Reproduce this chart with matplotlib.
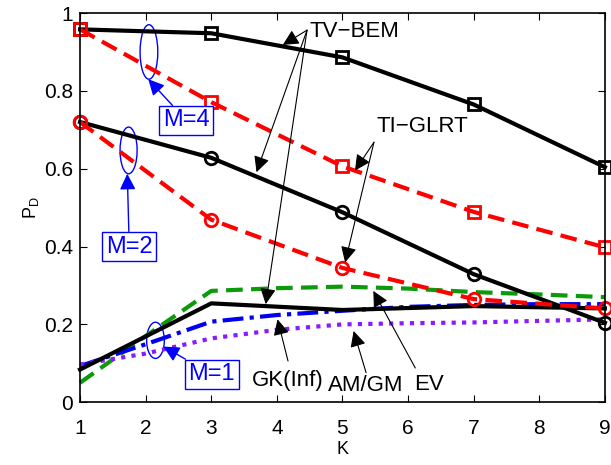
import numpy as np
import matplotlib
matplotlib.use("Agg")
from matplotlib import pyplot as plt
from matplotlib.patches import Ellipse

plt.rcParams['font.family'] = ['Liberation Sans', 'DejaVu Sans']

# data
K = [1, 3, 5, 7, 9]
K_all = [1, 2, 3, 4, 5, 6, 7, 8, 9]
tvbem_m4 = [0.958, 0.948, 0.886, 0.765, 0.604]
tiglrt_m4 = [0.958, 0.771, 0.606, 0.489, 0.398]
tvbem_m2 = [0.720, 0.628, 0.488, 0.329, 0.204]
tiglrt_m2 = [0.720, 0.469, 0.345, 0.265, 0.241]
tvbem_m1 = [0.084, 0.254, 0.237, 0.247, 0.241]
ev_m1 = [0.050, 0.170, 0.286, 0.293, 0.297, 0.292, 0.283, 0.277, 0.270]
gk_m1 = [0.093, 0.149, 0.207, 0.224, 0.235, 0.245, 0.250, 0.252, 0.252]
amgm_m1 = [0.097, 0.125, 0.164, 0.186, 0.200, 0.203, 0.205, 0.209, 0.213]

fig = plt.figure(figsize=(6.11, 4.65), dpi=100)
ax = fig.add_axes([0.131, 0.135, 0.859, 0.837])

ax.plot(K_all, ev_m1, color='#0a9a0a', lw=3, dashes=(4, 2), clip_on=False)
ax.plot(K_all, gk_m1, color='#0000ee', lw=3, dashes=(5, 1.5, 1, 1.5), clip_on=False)
ax.plot(K_all, amgm_m1, color='#8a1aff', lw=3, dashes=(1, 1.5), clip_on=False)
ax.plot(K, tvbem_m1, color='k', lw=3, clip_on=False)

ax.plot(K, tvbem_m4, color='k', lw=3, marker='s', ms=8, mfc='none', mew=2, clip_on=False)
ax.plot(K, tvbem_m2, color='k', lw=3, marker='o', ms=9, mfc='none', mew=2, clip_on=False)
ax.plot(K, tiglrt_m4, color='#ff0000', lw=3, dashes=(4, 2), marker='s', ms=8, mfc='none', mew=2, clip_on=False)
ax.plot(K, tiglrt_m2, color='#ff0000', lw=3, dashes=(4, 2), marker='o', ms=9, mfc='none', mew=2, clip_on=False)

ax.set_xlim(1, 9)
ax.set_ylim(0, 1)
ax.set_xticks(range(1, 10))
ax.set_yticks([0, 0.2, 0.4, 0.6, 0.8, 1])
ax.set_yticklabels(['0', '0.2', '0.4', '0.6', '0.8', '1'])
ax.tick_params(direction='in', top=True, right=True, labelsize=15, length=5, width=0.8, pad=5)
ax.tick_params(axis='x', pad=12)
for s in ax.spines.values():
    s.set_linewidth(1.2)
ax.set_xlabel('K', fontsize=13, labelpad=2)
ax.set_ylabel('P$_\\mathregular{D}$', fontsize=13, labelpad=2)

# ellipses and M boxes
blue = '#0000ff'
for (cx, cy, w, h) in [(2.05, 0.900, 0.27, 0.14), (1.74, 0.647, 0.26, 0.12), (2.15, 0.159, 0.27, 0.093)]:
    ax.add_patch(Ellipse((cx, cy), w, h, fill=False, ec=blue, lw=1))

box = dict(boxstyle='square,pad=0.15', fc='white', ec=blue, lw=1)
arr_b = dict(arrowstyle='-|>', color=blue, lw=1, mutation_scale=24, shrinkA=0, shrinkB=0)
ax.annotate('M=4', xy=(2.04, 0.83), xytext=(2.62, 0.724), fontsize=17, color=blue,
            ha='center', va='center', bbox=box, arrowprops=arr_b)
ax.annotate('M=2', xy=(1.72, 0.587), xytext=(1.75, 0.40), fontsize=17, color=blue,
            ha='center', va='center', bbox=box, arrowprops=arr_b)
ax.annotate('M=1', xy=(2.27, 0.143), xytext=(3.01, 0.072), fontsize=17, color=blue,
            ha='center', va='center', bbox=box, arrowprops=arr_b)

# method labels with arrows
arr_k = dict(arrowstyle='-|>', color='k', lw=0.8, mutation_scale=24, shrinkA=0, shrinkB=0)
ax.text(4.49, 0.953, 'TV\u2212BEM', fontsize=16, ha='left', va='center')
for xy in [(4.09, 0.918), (3.69, 0.591), (3.83, 0.252)]:
    ax.annotate('', xy=xy, xytext=(4.46, 0.956), arrowprops=arr_k)

ax.text(5.52, 0.709, 'TI\u2212GLRT', fontsize=16, ha='left', va='center')
for xy in [(5.19, 0.595), (5.04, 0.359)]:
    ax.annotate('', xy=xy, xytext=(5.48, 0.668), arrowprops=arr_k)

ax.text(4.16, 0.057, 'GK(Inf)', fontsize=16, ha='center', va='center')
ax.annotate('', xy=(4.01, 0.213), xytext=(4.17, 0.106), arrowprops=arr_k)
ax.text(5.36, 0.044, 'AM/GM', fontsize=16, ha='center', va='center')
ax.annotate('', xy=(5.17, 0.183), xytext=(5.36, 0.076), arrowprops=arr_k)
ax.text(6.32, 0.046, 'EV', fontsize=16, ha='center', va='center')
ax.annotate('', xy=(5.47, 0.286), xytext=(6.11, 0.088), arrowprops=arr_k)

fig.savefig('out.png', dpi=100)
